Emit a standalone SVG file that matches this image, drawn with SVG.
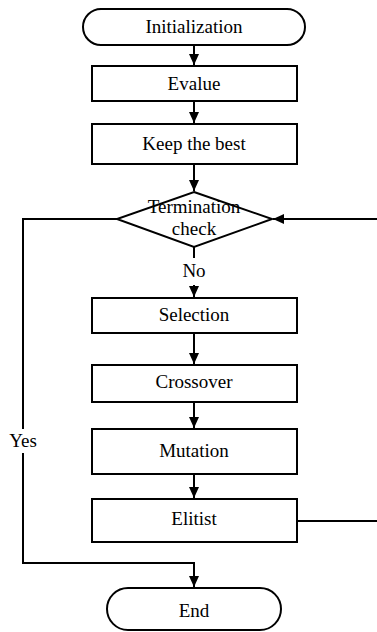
<svg xmlns="http://www.w3.org/2000/svg" width="377" height="632" viewBox="0 0 377 632">
<style>
.box{fill:#fff;stroke:#000;stroke-width:2}
.t{font-family:"Liberation Serif","Times New Roman",serif;font-size:19px;fill:#000;text-anchor:middle}
.c{fill:none;stroke:#000;stroke-width:2}
</style>
<defs>
<marker id="ah" markerUnits="userSpaceOnUse" markerWidth="12" markerHeight="12" viewBox="0 0 12 12" refX="11" refY="6" orient="auto">
<path d="M0,1 L11,6 L0,11 Z" fill="#000"/>
</marker>
</defs>
<rect width="377" height="632" fill="#fff"/>
<g id="connectors">
<path class="c" d="M194,45 V65" marker-end="url(#ah)"/>
<path class="c" d="M194,101 V123" marker-end="url(#ah)"/>
<path class="c" d="M194,164 V191" marker-end="url(#ah)"/>
<path class="c" d="M194,247 V258"/>
<path class="c" d="M194,285 V297" marker-end="url(#ah)"/>
<path class="c" d="M194,333 V364" marker-end="url(#ah)"/>
<path class="c" d="M194,402 V428" marker-end="url(#ah)"/>
<path class="c" d="M194,474 V498" marker-end="url(#ah)"/>
<path class="c" d="M117,219 H23 V429"/>
<path class="c" d="M23,453 V563 H194 V587" marker-end="url(#ah)"/>
<path class="c" d="M377,219 H273" marker-end="url(#ah)"/>
<path class="c" d="M297,521 H377"/>
<text class="t" x="194" y="277">No</text>
<text class="t" x="23" y="447">Yes</text>
</g>
<g id="init">
<rect class="box" x="83" y="9" width="222" height="36" rx="18"/>
<text class="t" x="194" y="33">Initialization</text>
</g>
<g id="evalue">
<rect class="box" x="92" y="66" width="205" height="35"/>
<text class="t" x="194" y="90">Evalue</text>
</g>
<g id="keep">
<rect class="box" x="92" y="124" width="205" height="40"/>
<text class="t" x="194" y="150">Keep the best</text>
</g>
<g id="term">
<polygon class="box" points="194,192 272,219 194,247 117,219"/>
<text class="t" x="194" y="213">Termination</text>
<text class="t" x="194" y="235">check</text>
</g>
<g id="selection">
<rect class="box" x="92" y="298" width="205" height="35"/>
<text class="t" x="194" y="321">Selection</text>
</g>
<g id="crossover">
<rect class="box" x="92" y="365" width="205" height="37"/>
<text class="t" x="194" y="388">Crossover</text>
</g>
<g id="mutation">
<rect class="box" x="92" y="429" width="205" height="45"/>
<text class="t" x="194" y="457">Mutation</text>
</g>
<g id="elitist">
<rect class="box" x="92" y="499" width="205" height="43"/>
<text class="t" x="194" y="525">Elitist</text>
</g>
<g id="end">
<rect class="box" x="107" y="588" width="174" height="42" rx="21"/>
<text class="t" x="194" y="617">End</text>
</g>
</svg>
